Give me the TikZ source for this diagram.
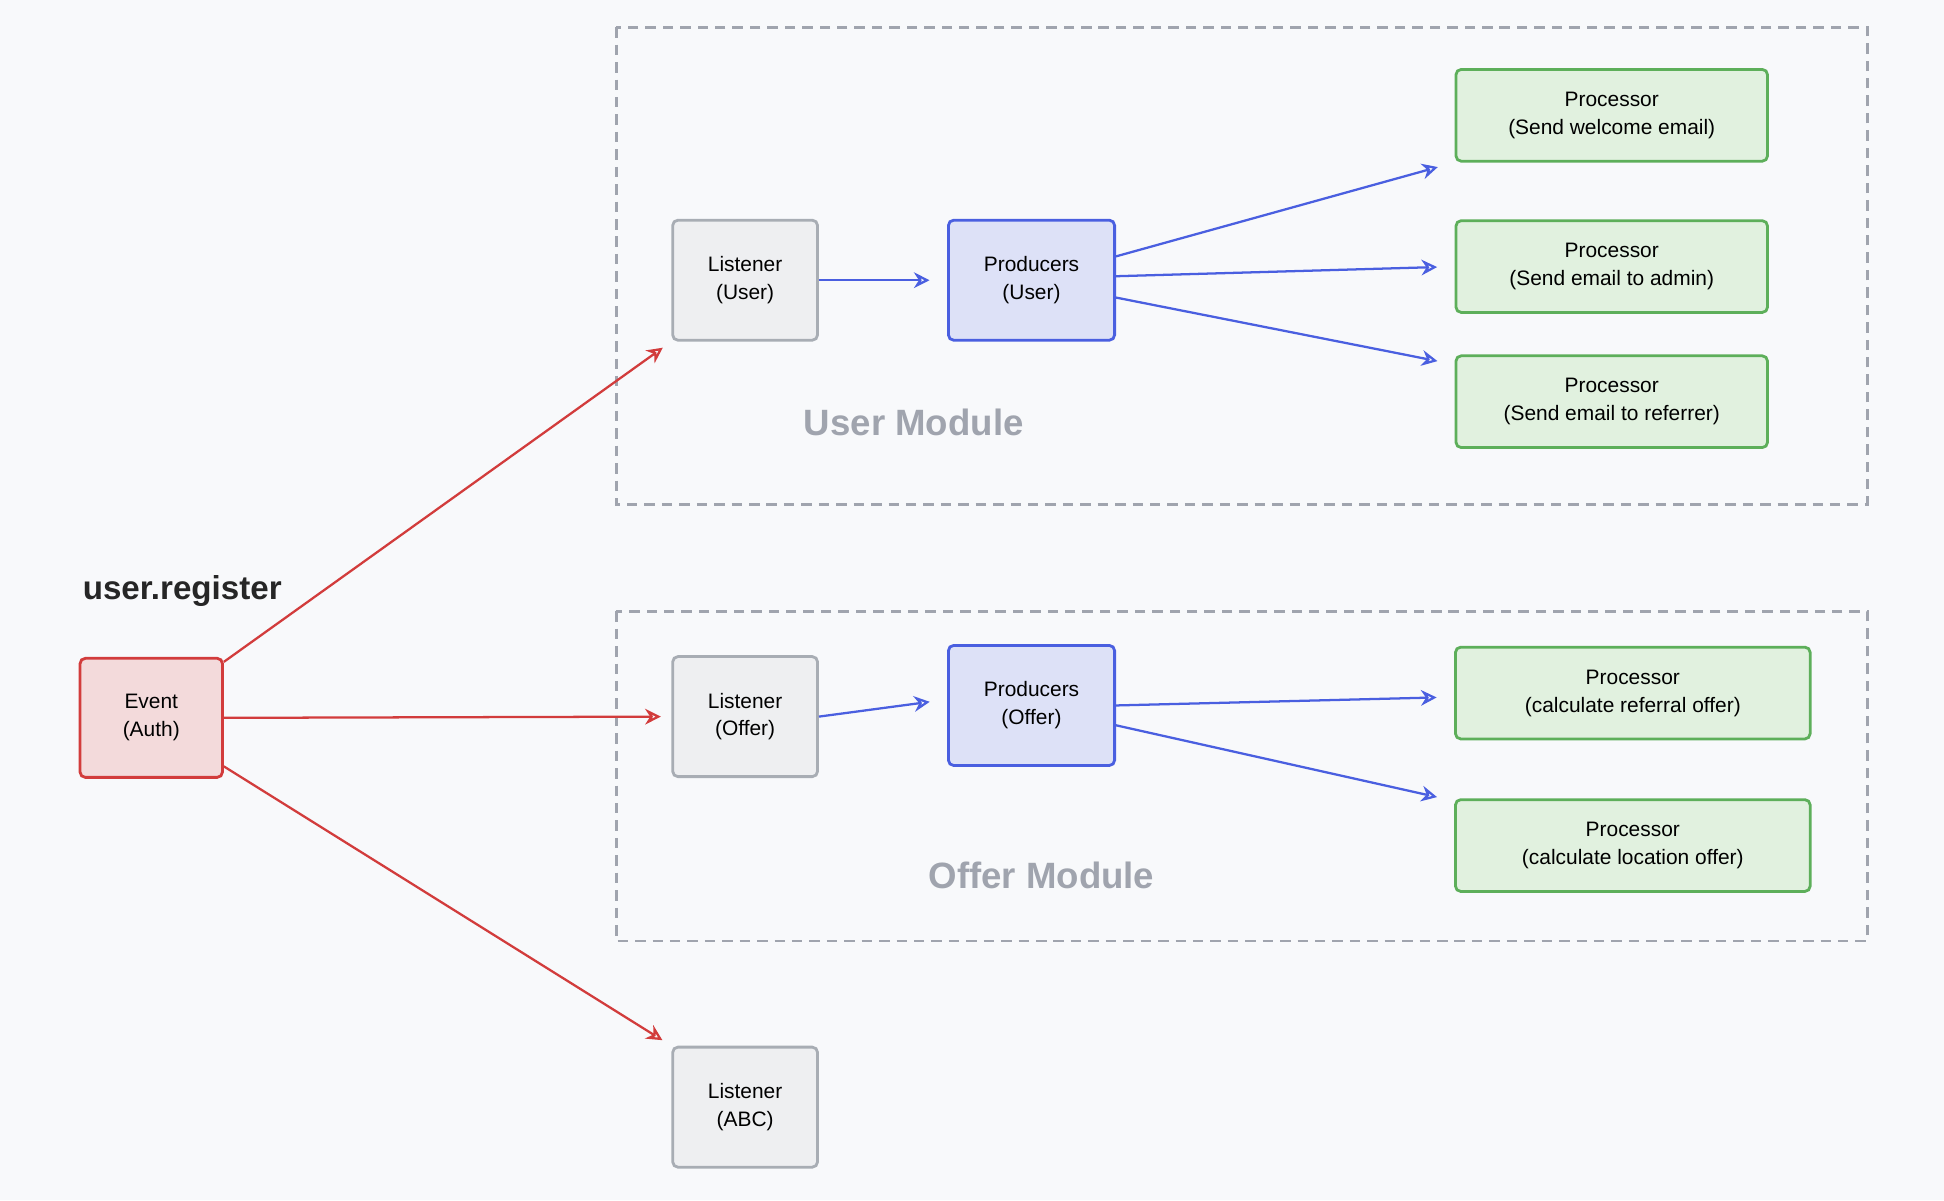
\documentclass[tikz,border=0pt]{standalone}
\usepackage{fontspec}
\setmainfont{Liberation Sans}
\usetikzlibrary{arrows.meta}
\usetikzlibrary{positioning}
\definecolor{bgc}{HTML}{F8F9FB}
\definecolor{grayfill}{HTML}{EEEFF1}
\definecolor{graydraw}{HTML}{A8ADB4}
\definecolor{bluefill}{HTML}{DDE1F7}
\definecolor{bluedraw}{HTML}{4A5FE0}
\definecolor{greenfill}{HTML}{E1F1DF}
\definecolor{greendraw}{HTML}{5DAF5A}
\definecolor{redfill}{HTML}{F3DADB}
\definecolor{reddraw}{HTML}{D23C3C}
\definecolor{modgray}{HTML}{A0A4AE}
\tikzset{>=latex}
\tikzset{
  box/.style = {rectangle, rounded corners=3pt, line width=1.6pt, align=center,
                font=\fontsize{12}{16}\selectfont, inner sep=0pt},
  listenerbox/.style = {box, fill=grayfill, draw=graydraw, minimum width=2.92cm, minimum height=2.42cm},
  producerbox/.style = {box, fill=bluefill, draw=bluedraw, minimum width=3.35cm, minimum height=2.42cm},
  processorbox/.style = {box, fill=greenfill, draw=greendraw, minimum height=1.85cm},
  eventbox/.style = {box, fill=redfill, draw=reddraw, minimum width=2.87cm, minimum height=2.4cm},
  modulebox/.style = {draw=modgray, line width=1.6pt, dash pattern=on 6pt off 4pt},
  modlabel/.style = {font=\fontsize{21}{24}\selectfont\bfseries, text=modgray},
  redarrow/.style = {-{Stealth[open, length=9pt, width=9pt]}, draw=reddraw, line width=1.3pt, shorten >=6pt},
  bluearrow/.style = {-{Stealth[open, length=9pt, width=9pt]}, draw=bluedraw, line width=1.3pt, shorten >=10pt}
}
\begin{document}
\begin{tikzpicture}[x=0.025cm, y=-0.025cm]
\fill [bgc] (0,0) rectangle (1568,968);
\useasboundingbox (0,0) rectangle (1568,968);
% modules
\draw [modulebox] (497,22) rectangle (1506,407);
\draw [modulebox] (497,493) rectangle (1506,759);
\node [modlabel] (um) at (737,341) {User Module};
\node [modlabel] (om) at (840,706) {Offer Module};
% nodes
\node [font=\fontsize{19}{22}\selectfont\bfseries, text=black!85] (ur) at (147,477) {user.register};
\node [eventbox] (ev) at (122,579) {Event\\(Auth)};
\node [listenerbox] (lu) at (601,226) {Listener\\(User)};
\node [producerbox] (pu) at (832,226) {Producers\\(User)};
\node [processorbox, minimum width=6.28cm] (p1) at (1300,93) {Processor\\(Send welcome email)};
\node [processorbox, minimum width=6.28cm] (p2) at (1300,215) {Processor\\(Send email to admin)};
\node [processorbox, minimum width=6.28cm] (p3) at (1300,324) {Processor\\(Send email to referrer)};
\node [listenerbox] (lo) at (601,578) {Listener\\(Offer)};
\node [producerbox] (po) at (832,569) {Producers\\(Offer)};
\node [processorbox, minimum width=7.15cm] (p4) at (1317,559) {Processor\\(calculate referral offer)};
\node [processorbox, minimum width=7.15cm] (p5) at (1317,682) {Processor\\(calculate location offer)};
\node [listenerbox] (la) at (601,893) {Listener\\(ABC)};
% red
\draw [redarrow] ([yshift=-0.1cm]ev.north east) to (lu.south west);
\draw [redarrow] (ev.east) to (lo.west);
\draw [redarrow] ([yshift=0.25cm]ev.south east) to (la.north west);
% blue
\draw [bluearrow] (lu.east) to (pu.west);
\draw [bluearrow] ([yshift=0.48cm]pu.east) to ([yshift=-0.95cm]p1.west);
\draw [bluearrow] ([yshift=0.08cm]pu.east) to (p2.west);
\draw [bluearrow] ([yshift=-0.35cm]pu.east) to ([yshift=0.75cm]p3.west);
\draw [bluearrow] (lo.east) to ([yshift=0.12cm]po.west);
\draw [bluearrow] (po.east) to ([yshift=-0.08cm]p4.west);
\draw [bluearrow] ([yshift=-0.4cm]po.east) to ([yshift=0.9cm]p5.west);
\end{tikzpicture}
\end{document}
